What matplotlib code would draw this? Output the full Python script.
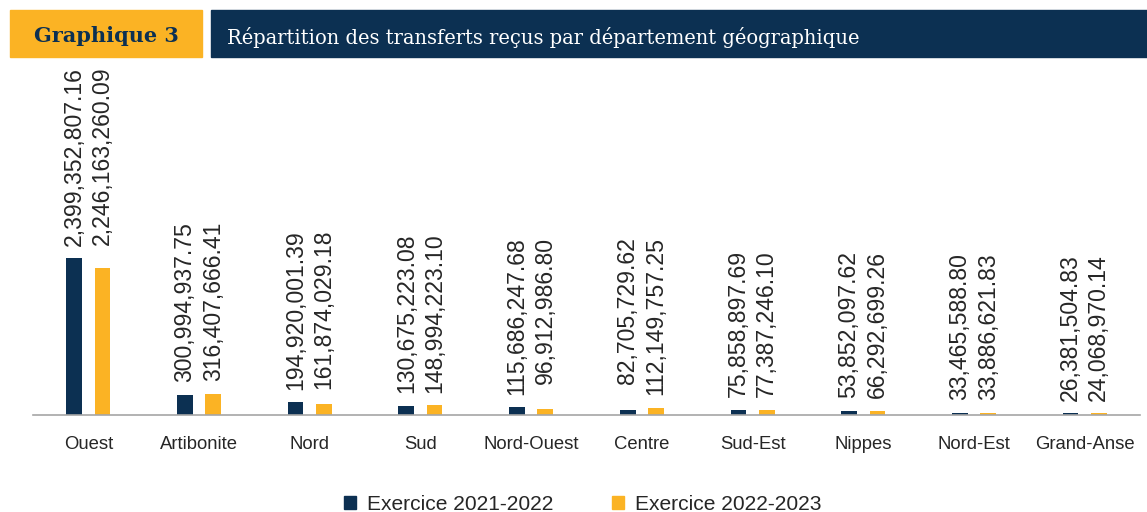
import matplotlib.pyplot as plt
import numpy as np
from matplotlib.patches import Rectangle, Patch

departements = ['Ouest', 'Artibonite', 'Nord', 'Sud', 'Nord-Ouest', 'Centre',
                'Sud-Est', 'Nippes', 'Nord-Est', 'Grand-Anse']
exercice_2122 = [2399352807.16, 300994937.75, 194920001.39, 130675223.08, 115686247.68,
                 82705729.62, 75858897.69, 53852097.62, 33465588.80, 26381504.83]
exercice_2223 = [2246163260.09, 316407666.41, 161874029.18, 148994223.10, 96912986.80,
                 112149757.25, 77387246.10, 66292699.26, 33886621.83, 24068970.14]
series_noms = ['Exercice 2021-2022', 'Exercice 2022-2023']

NAVY = '#0c3052'
ORANGE = '#fbb324'

plt.rcParams['font.family'] = ['Liberation Sans', 'DejaVu Sans']

W, H = 1147, 512
fig = plt.figure(figsize=(W / 100, H / 100), dpi=100)

# bandeau titre
fig.patches.append(Rectangle((10 / W, 1 - 57 / H), 192 / W, 47 / H,
                             transform=fig.transFigure, color=ORANGE, zorder=0))
fig.patches.append(Rectangle((211 / W, 1 - 57 / H), 936 / W, 47 / H,
                             transform=fig.transFigure, color=NAVY, zorder=0))
fig.text(106.5 / W, 1 - 36 / H, 'Graphique 3', color=NAVY, fontsize=15, fontweight='bold',
         family='DejaVu Serif', ha='center', va='center')
fig.text(227 / W, 1 - 37 / H, 'Répartition des transferts reçus par département géographique',
         color='white', fontsize=14.05, family='DejaVu Serif', ha='left', va='center')

ax = fig.add_axes([33 / W, 97 / H, 1107 / W, 355 / H])
x = np.arange(len(departements))
larg = 0.142
dx = 0.128
ax.bar(x - dx, exercice_2122, larg, color=NAVY, label=series_noms[0])
ax.bar(x + dx, exercice_2223, larg, color=ORANGE, label=series_noms[1])

ax.set_xlim(-0.5, len(departements) - 0.5)
ax.set_ylim(0, max(exercice_2122) * 355 / 157)
ax.set_yticks([])
ax.set_xticks(x)
ax.set_xticklabels(departements, fontsize=13.3, color='#262626')
ax.tick_params(axis='x', length=0, pad=15)
for s in ['top', 'right', 'left']:
    ax.spines[s].set_visible(False)
ax.spines['bottom'].set_color('#a6a6a6')
ax.spines['bottom'].set_linewidth(1.2)


def fmt(v):
    return '{:,.2f}'.format(v)


# etiquettes: alignees par le haut dans chaque groupe
fig.canvas.draw()
renderer = fig.canvas.get_renderer()
for i in range(len(departements)):
    vals = [exercice_2122[i], exercice_2223[i]]
    xs = [x[i] - dx, x[i] + dx]
    labs = [fmt(v) for v in vals]
    k = 0 if len(labs[0]) >= len(labs[1]) else 1
    t = ax.annotate(labs[k], xy=(xs[k], max(vals)), xytext=(0, 9), textcoords='offset points',
                    rotation=90, ha='center', va='bottom', fontsize=16.6, color='#262626')
    top = t.get_window_extent(renderer).y1
    o = 1 - k
    ax.annotate(labs[o], xy=(xs[o], top), xycoords=('data', 'figure pixels'),
                rotation=90, ha='center', va='top', fontsize=16.6, color='#262626',
                annotation_clip=False)

handles = [Patch(color=NAVY), Patch(color=ORANGE)]
fig.legend(handles, series_noms, loc='lower center', bbox_to_anchor=(0.508, -0.04), ncol=2,
           frameon=False, fontsize=15.1, handlelength=0.57, handleheight=0.57,
           handletextpad=0.52, columnspacing=2.8, labelcolor='#262626')

fig.savefig('out.png', dpi=100)
